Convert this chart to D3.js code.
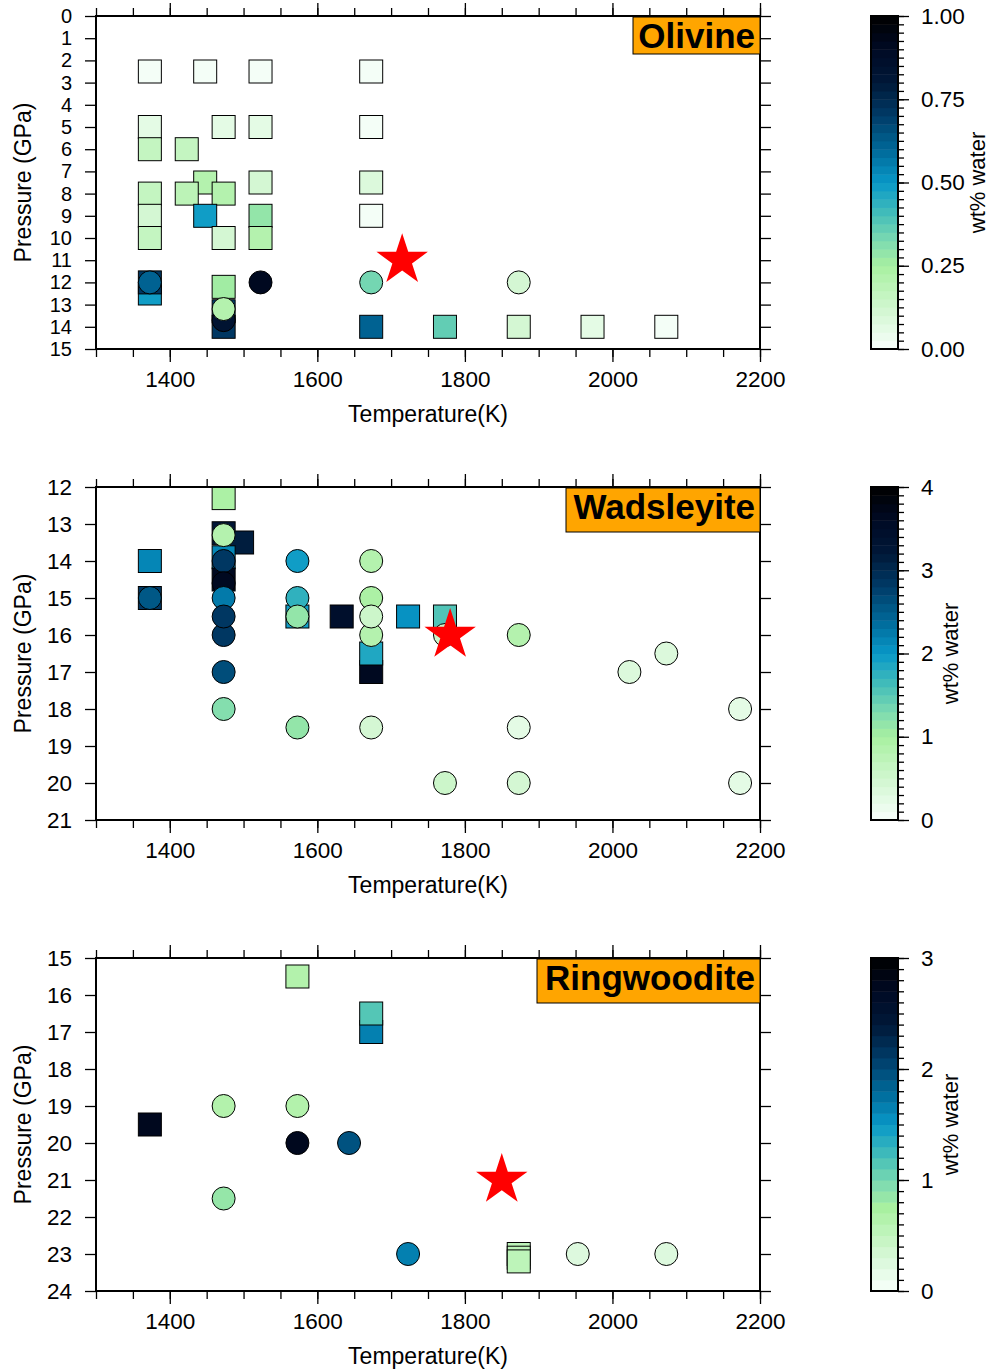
<!DOCTYPE html>
<html>
<head>
<meta charset="utf-8">
<script src="https://cdn.jsdelivr.net/npm/d3@7"></script>
<style>
  body { margin: 0; background: #fff; }
  svg { display: block; }
  text { font-family: "Liberation Sans", Arial, sans-serif; fill: #000; }
  .axis path { display: none; }
  .axis line { stroke: #000; stroke-width: 1.3; }
  .axis text { font-size: 22.5px; }
  .axis-legend { font-size: 23px; text-anchor: middle; }
  .title-text { font-size: 35px; font-weight: bold; text-anchor: end; }
</style>
</head>
<body>
<svg class="chart"></svg>
<script>

// [temperature K, pressure GPa, wt% water]
var olivineSquares = [
  [1373, 2.5, 0.01], [1448, 2.5, 0.01], [1523, 2.5, 0.01], [1673, 2.5, 0.01],
  [1373, 5, 0.05], [1473, 5, 0.05], [1523, 5, 0.06], [1673, 5, 0.01],
  [1373, 6, 0.16], [1423, 6, 0.17],
  [1448, 7.5, 0.2], [1523, 7.5, 0.12], [1673, 7.5, 0.08],
  [1373, 8, 0.16], [1423, 8, 0.19], [1473, 8, 0.22],
  [1373, 9, 0.1], [1448, 9, 0.48], [1523, 9, 0.29], [1673, 9, 0.01],
  [1373, 10, 0.17], [1473, 10, 0.11], [1523, 10, 0.2],
  [1373, 12.5, 0.48], [1373, 12, 0.7], [1473, 12.2, 0.25],
  [1473, 13.3, 0.69], [1473, 14, 0.7],
  [1673, 14, 0.6], [1773, 14, 0.37], [1873, 14, 0.12], [1973, 14, 0.05], [2073, 14, 0.01]
];
var olivineCircles = [
  [1373, 12, 0.6], [1473, 13.7, 0.83], [1473, 13.2, 0.2],
  [1523, 12, 0.9], [1673, 12, 0.34], [1873, 12, 0.1]
];
var olivineStar = [1715, 11];

var wadsleyiteSquares = [
  [1473, 12.3, 0.95], [1373, 14, 2.1], [1373, 15, 2.8],
  [1473, 13.25, 3.2], [1498, 13.5, 3.1], [1473, 13.9, 2.1], [1473, 14.5, 3.6],
  [1573, 15.5, 1.9], [1633, 15.5, 3.4], [1673, 17, 3.6], [1673, 16.5, 1.85],
  [1723, 15.5, 2.0], [1773, 15.5, 1.55]
];
var wadsleyiteCircles = [
  [1373, 15, 2.5], [1473, 13.3, 0.8], [1473, 14, 2.8], [1473, 14.6, 3.6],
  [1473, 15, 2.2], [1473, 16, 2.8], [1473, 15.5, 2.8], [1473, 17, 2.6], [1473, 18, 1.25],
  [1573, 14, 1.9], [1573, 15, 1.7], [1573, 15.5, 1.15], [1573, 18.5, 1.15],
  [1673, 14, 0.8], [1673, 15, 0.9], [1673, 16, 0.8], [1673, 15.5, 0.5], [1673, 18.5, 0.4],
  [1773, 16, 0.5], [1773, 20, 0.5],
  [1873, 16, 0.8], [1873, 18.5, 0.25], [1873, 20, 0.4],
  [2023, 17, 0.3], [2073, 16.5, 0.3], [2173, 18, 0.25], [2173, 20, 0.25]
];
var wadsleyiteStar = [1780, 16];

var ringwooditeSquares = [
  [1573, 15.5, 0.7], [1673, 17, 1.65], [1673, 16.5, 1.17], [1373, 19.5, 2.7],
  [1873, 23.0, 0.6], [1873, 23.1, 0.6], [1873, 23.2, 0.6]
];
var ringwooditeCircles = [
  [1473, 19, 0.7], [1573, 19, 0.7], [1573, 20, 2.7], [1643, 20, 1.95],
  [1473, 21.5, 0.87], [1723, 23, 1.65], [1953, 23, 0.25], [2073, 23, 0.3]
];
var ringwooditeStar = [1850, 21];

var tempTicks = [1400, 1600, 1800, 2000, 2200];

// colour stops, fraction of the colour bar range
var cptStops = [0, 0.1, 0.25, 0.32, 0.4, 0.5, 0.6, 0.7, 0.8, 0.9, 1];
var cptColors = ["#f8fffb", "#d8f8d8", "#a8f0a0", "#80dcb0", "#48c0b8", "#0898c8",
                 "#006898", "#003c68", "#001838", "#000a24", "#000000"];

var panels = [
  {name: "Olivine", top: 16, pmin: 0, pmax: 15, wmax: 1, bands: 40, cbMajor: 0.25, cbFmt: ".2f",
   squares: olivineSquares, circles: olivineCircles, star: olivineStar,
   box: {x: 633, h: 37}, yFont: 20, cbLabelX: 985},
  {name: "Wadsleyite", top: 487, pmin: 12, pmax: 21, wmax: 4, bands: 40, cbMajor: 1, cbFmt: "d",
   squares: wadsleyiteSquares, circles: wadsleyiteCircles, star: wadsleyiteStar,
   box: {x: 566, h: 44}, yFont: 22.5, cbLabelX: 958},
  {name: "Ringwoodite", top: 958, pmin: 15, pmax: 24, wmax: 3, bands: 30, cbMajor: 1, cbFmt: "d",
   squares: ringwooditeSquares, circles: ringwooditeCircles, star: ringwooditeStar,
   box: {x: 537, h: 44}, yFont: 22.5, cbLabelX: 958}
];

var plotLeft = 96, plotRight = 760, plotHeight = 333;
var cbLeft = 871, cbWidth = 27;
var symSize = 23;

var svg = d3.select(".chart")
  .attr("width", 992)
  .attr("height", 1371);

var x = d3.scaleLinear()
  .domain([1300, 2200])
  .range([plotLeft, plotRight]);

var cpt = d3.scaleLinear()
  .domain(cptStops)
  .range(cptColors);

function waterColor(w, p) {
  var n = Math.min(p.bands - 1, Math.floor(w / p.wmax * p.bands));
  return cpt((n + 0.5) / p.bands);
}

panels.forEach(function(p) {

  var y = d3.scaleLinear()
    .domain([p.pmin, p.pmax])
    .range([p.top, p.top + plotHeight]);

  var g = svg.append("g");

  // axes: labelled left/bottom, ticks only on top/right
  g.append("g").attr("class", "axis")
    .attr("transform", "translate(" + plotLeft + ",0)")
    .call(d3.axisLeft(y).tickValues(d3.range(p.pmin, p.pmax + 1)).tickSize(11).tickPadding(13))
    .selectAll("text")
    .style("font-size", p.yFont + "px");

  g.append("g").attr("class", "axis")
    .attr("transform", "translate(" + plotRight + ",0)")
    .call(d3.axisRight(y).tickValues(d3.range(p.pmin, p.pmax + 1)).tickSize(11).tickFormat(""));

  var bottom = p.top + plotHeight;
  g.append("g").attr("class", "axis")
    .attr("transform", "translate(0," + bottom + ")")
    .call(d3.axisBottom(x).tickValues(tempTicks).tickSize(13).tickPadding(9).tickFormat(d3.format("d")));
  g.append("g").attr("class", "axis")
    .attr("transform", "translate(0," + bottom + ")")
    .call(d3.axisBottom(x).tickValues(d3.range(1300, 2201, 50)).tickSize(8).tickFormat(""));
  g.append("g").attr("class", "axis")
    .attr("transform", "translate(0," + p.top + ")")
    .call(d3.axisTop(x).tickValues(tempTicks).tickSize(13).tickFormat(""));
  g.append("g").attr("class", "axis")
    .attr("transform", "translate(0," + p.top + ")")
    .call(d3.axisTop(x).tickValues(d3.range(1300, 2201, 50)).tickSize(8).tickFormat(""));

  g.append("text")
    .attr("class", "axis-legend")
    .text("Pressure (GPa)")
    .attr("transform", "translate(31," + (p.top + plotHeight / 2) + "), rotate(-90)");

  g.append("text")
    .attr("class", "axis-legend")
    .attr("x", (plotLeft + plotRight) / 2)
    .attr("y", bottom + 73)
    .text("Temperature(K)");

  // data
  g.selectAll(".sq")
    .data(p.squares)
    .enter().append("rect")
    .attr("x", function(d) { return x(d[0]) - symSize / 2; })
    .attr("y", function(d) { return y(d[1]) - symSize / 2; })
    .attr("width", symSize)
    .attr("height", symSize)
    .style("fill", function(d) { return waterColor(d[2], p); })
    .style("stroke", "#000")
    .style("stroke-width", 1);

  g.selectAll(".ci")
    .data(p.circles)
    .enter().append("circle")
    .attr("cx", function(d) { return x(d[0]); })
    .attr("cy", function(d) { return y(d[1]); })
    .attr("r", symSize / 2)
    .style("fill", function(d) { return waterColor(d[2], p); })
    .style("stroke", "#000")
    .style("stroke-width", 1);

  g.append("path")
    .attr("d", d3.symbol(d3.symbolStar).size(820)())
    .attr("transform", "translate(" + x(p.star[0]) + "," + y(p.star[1]) + ")")
    .style("fill", "red");

  // frame
  g.append("rect")
    .attr("x", plotLeft)
    .attr("y", p.top)
    .attr("width", plotRight - plotLeft)
    .attr("height", plotHeight)
    .style("fill", "none")
    .style("stroke", "#000")
    .style("stroke-width", 2);

  // title box
  g.append("rect")
    .attr("x", p.box.x)
    .attr("y", p.top + 1)
    .attr("width", plotRight - p.box.x)
    .attr("height", p.box.h)
    .style("fill", "#ffa500")
    .style("stroke", "#000")
    .style("stroke-width", 1);
  g.append("text")
    .attr("class", "title-text")
    .attr("x", plotRight - 5)
    .attr("y", p.top + 32)
    .text(p.name);

  // colour bar
  var cy = d3.scaleLinear()
    .domain([0, p.wmax])
    .range([p.top + plotHeight, p.top]);
  var bandH = plotHeight / p.bands;

  g.selectAll(".band")
    .data(d3.range(p.bands))
    .enter().append("rect")
    .attr("x", cbLeft)
    .attr("y", function(i) { return cy((i + 1) * p.wmax / p.bands); })
    .attr("width", cbWidth)
    .attr("height", bandH + 0.5)
    .style("fill", function(i) { return cpt((i + 0.5) / p.bands); });

  g.append("rect")
    .attr("x", cbLeft)
    .attr("y", p.top)
    .attr("width", cbWidth)
    .attr("height", plotHeight)
    .style("fill", "none")
    .style("stroke", "#000")
    .style("stroke-width", 2);

  g.append("g").attr("class", "axis")
    .attr("transform", "translate(" + (cbLeft + cbWidth) + ",0)")
    .call(d3.axisRight(cy).tickValues(d3.range(0, p.wmax + 1e-9, p.wmax / p.bands)).tickSize(6).tickFormat(""));
  g.append("g").attr("class", "axis")
    .attr("transform", "translate(" + (cbLeft + cbWidth) + ",0)")
    .call(d3.axisRight(cy).tickValues(d3.range(0, p.wmax + 1e-9, p.cbMajor)).tickSize(11).tickPadding(12)
      .tickFormat(d3.format(p.cbFmt)));

  g.append("text")
    .attr("class", "axis-legend")
    .style("font-size", "22px")
    .text("wt% water")
    .attr("transform", "translate(" + p.cbLabelX + "," + (p.top + plotHeight / 2) + "), rotate(-90)");
});

</script>
</body>
</html>
